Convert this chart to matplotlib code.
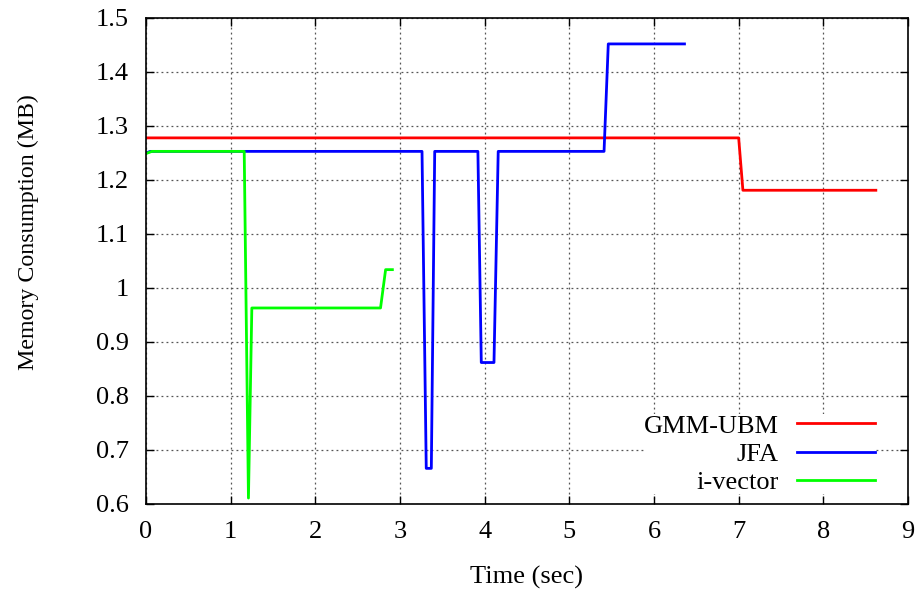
import matplotlib.pyplot as plt

plt.rcParams['font.family'] = ['Liberation Serif', 'DejaVu Serif']

# --- data ---
gmm_t = [0.0, 7.00, 7.05, 8.62]
gmm_mem = [1.278, 1.278, 1.181, 1.181]

jfa_t = [0.0, 0.05, 3.26, 3.31, 3.37, 3.41, 3.92, 3.96, 4.11, 4.16, 5.41, 5.46, 6.36]
jfa_mem = [1.250, 1.253, 1.253, 0.666, 0.666, 1.253, 1.253, 0.862, 0.862, 1.253, 1.253, 1.452, 1.452]

ivec_t = [0.0, 0.07, 1.16, 1.21, 1.25, 2.77, 2.83, 2.91]
ivec_mem = [1.249, 1.253, 1.253, 0.611, 0.963, 0.963, 1.034, 1.034]

xticks = list(range(0, 10))
yticks = [0.6, 0.7, 0.8, 0.9, 1.0, 1.1, 1.2, 1.3, 1.4, 1.5]
ytick_labels = ['0.6', '0.7', '0.8', '0.9', '1', '1.1', '1.2', '1.3', '1.4', '1.5']

fig = plt.figure(figsize=(9.24, 5.92), dpi=100)
ax = fig.add_axes([146 / 924, 88 / 592, 762 / 924, 486 / 592])

ax.plot(gmm_t, gmm_mem, color='#ff0000', lw=2, label='GMM-UBM')
ax.plot(jfa_t, jfa_mem, color='#0000ff', lw=2, label='JFA')
ax.plot(ivec_t, ivec_mem, color='#00ff00', lw=2, label='i-vector')

ax.set_xlim(0, 9)
ax.set_ylim(0.6, 1.5)
ax.set_xticks(xticks)
ax.set_yticks(yticks)
ax.set_yticklabels(ytick_labels)
ax.tick_params(direction='in', top=True, right=True, length=6, width=1, labelsize=19)
ax.tick_params(axis='x', pad=12.5)
ax.tick_params(axis='y', pad=12.5)
ax.grid(True, linestyle=(0, (1.5, 2.5)), color='#555555', lw=0.9)
ax.set_axisbelow(True)
for s in ax.spines.values():
    s.set_linewidth(1.2)

ax.set_xlabel('Time (sec)', fontsize=19, labelpad=16)
ax.set_ylabel('Memory Consumption (MB)', fontsize=17.2)
ax.yaxis.set_label_coords(-0.141, 0.56)

leg = ax.legend(loc='lower right', bbox_to_anchor=(0.957, 0.0206), markerfirst=False,
                frameon=True, fontsize=19, handlelength=2.95, handletextpad=0.7,
                labelspacing=0.18, borderpad=0.0, borderaxespad=0.0, fancybox=False)
leg.get_frame().set_edgecolor('none')
leg.get_frame().set_facecolor('white')
leg.get_frame().set_alpha(1)
for t in leg.get_texts():
    t.set_ha('right')

fig.savefig('out.png', dpi=100)
